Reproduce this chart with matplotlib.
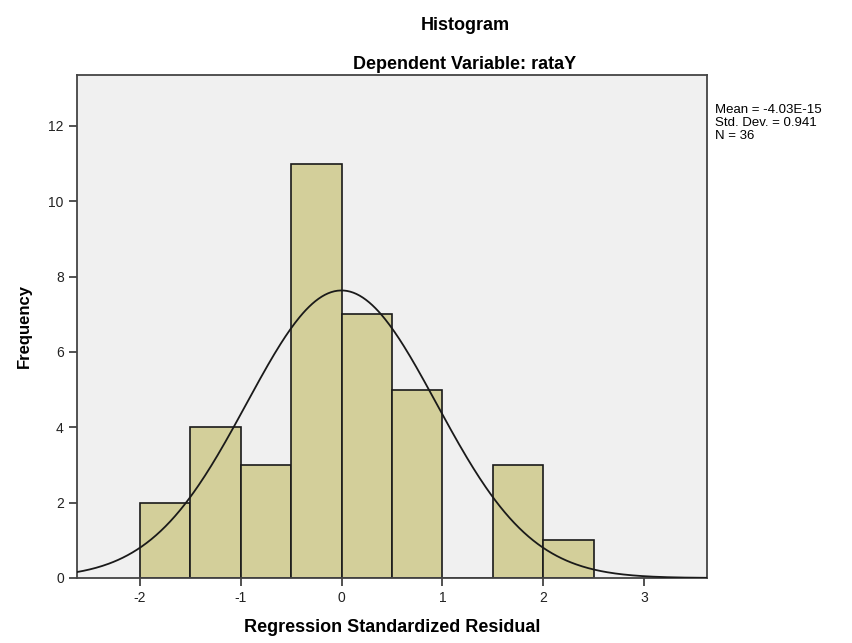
import numpy as np
import matplotlib
matplotlib.use('Agg')
import matplotlib.pyplot as plt

plt.rcParams['font.family'] = ['Liberation Sans', 'DejaVu Sans']
plt.rcParams['axes.unicode_minus'] = False

# histogram data
bin_edges = [-2.0, -1.5, -1.0, -0.5, 0.0, 0.5, 1.0, 1.5, 2.0, 2.5]
counts = [2, 4, 3, 11, 7, 5, 0, 3, 1]
mean = -4.03e-15
std = 0.941
n = 36

fig = plt.figure(figsize=(8.53, 6.43), dpi=100)
ax = fig.add_axes([0.0903, 0.1011, 0.7385, 0.7823])
ax.set_facecolor('#f0f0f0')

lefts = bin_edges[:-1]
widths = np.diff(bin_edges)
ax.bar(lefts, counts, width=widths, align='edge', color='#d3cf9a',
       edgecolor='#1a1a1a', linewidth=1.2, zorder=2)

# normal curve
xs = np.linspace(-2.62, 3.62, 400)
bw = widths[0]
ys = n * bw * np.exp(-0.5 * ((xs - mean) / std) ** 2) / (std * np.sqrt(2 * np.pi))
ax.plot(xs, ys, color='#1a1a1a', linewidth=1.3, zorder=3)

ax.set_xlim(-2.62, 3.62)
ax.set_ylim(0, 13.35)
ax.set_xticks([-2, -1, 0, 1, 2, 3])
ax.set_yticks([0, 2, 4, 6, 8, 10, 12])
ax.tick_params(direction='out', length=6, width=1.2, labelsize=10, color='#333333',
               labelcolor='#222222')
for s in ax.spines.values():
    s.set_color('#444444')
    s.set_linewidth(1.3)

ax.set_xlabel('Regression Standardized Residual', fontsize=13, fontweight='bold',
              labelpad=10)
ax.set_ylabel('Frequency', fontsize=12, fontweight='bold', labelpad=12)

fig.text(0.545, 0.960, 'Histogram', ha='center', va='center', fontsize=13,
         fontweight='bold')
fig.text(0.545, 0.900, 'Dependent Variable: rataY', ha='center', va='center',
         fontsize=13, fontweight='bold')

fig.text(0.838, 0.838,
         'Mean = -4.03E-15\nStd. Dev. = 0.941\nN = 36',
         ha='left', va='top', fontsize=9.5, linespacing=1.1)

fig.savefig('out.png', dpi=100)
